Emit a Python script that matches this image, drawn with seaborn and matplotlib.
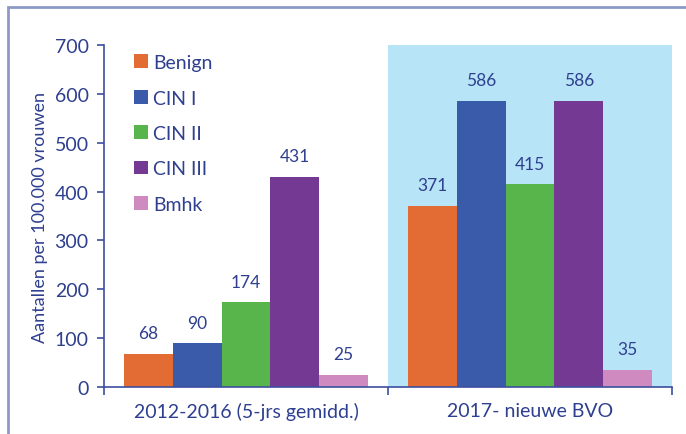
import matplotlib
matplotlib.use("Agg")
import matplotlib.pyplot as plt
import matplotlib.patches as mpatches
import pandas as pd
import seaborn as sns

periods = ["2012-2016 (5-jrs gemidd.)", "2017- nieuwe BVO"]
categories = ["Benign", "CIN I", "CIN II", "CIN III", "Bmhk"]
values_2012_2016 = [68, 90, 174, 431, 25]
values_2017 = [371, 586, 415, 586, 35]
colors = ["#e36c35", "#3a5ba9", "#57b54c", "#743a93", "#cf8bbf"]

TEXT = "#2e3f8f"
AXIS = "#3c4f9e"


def build_frame():
    rows = []
    for period, vals in zip(periods, [values_2012_2016, values_2017]):
        for cat, v in zip(categories, vals):
            rows.append({"periode": period, "categorie": cat, "aantal": v})
    return pd.DataFrame(rows)


def main():
    df = build_frame()
    sns.set_style("white")
    plt.rcParams["font.family"] = ["Lato", "DejaVu Sans"]

    fig = plt.figure(figsize=(6.86, 4.35), dpi=100)
    ax = fig.add_axes([0.1516, 0.108, 0.828, 0.786])

    # highlighted band behind the second period
    ax.axvspan(0.5, 1.5, color="#b8e4f7", zorder=0, lw=0)

    sns.barplot(data=df, x="periode", y="aantal", hue="categorie",
                order=periods, hue_order=categories, palette=colors,
                width=0.86, saturation=1, linewidth=0, ax=ax, zorder=2)

    for cont in ax.containers:
        ax.bar_label(cont, padding=9, fontsize=12.5, color=TEXT)

    ax.set_xlim(-0.5, 1.5)
    ax.set_ylim(0, 700)
    ax.set_yticks(range(0, 701, 100))
    ax.tick_params(axis="y", labelsize=14, colors=AXIS, labelcolor=TEXT,
                   length=5, width=1.2, direction="out", left=True, pad=6)

    ax.set_xticks([-0.5, 0.5, 1.5])
    ax.set_xticklabels([])
    ax.set_xticks([0, 1], minor=True)
    ax.set_xticklabels(periods, minor=True)
    ax.tick_params(axis="x", which="major", length=6, width=1.2,
                   colors=AXIS, direction="out", bottom=True)
    ax.tick_params(axis="x", which="minor", length=0, labelsize=14,
                   labelcolor=TEXT, pad=11)

    ax.set_xlabel("")
    ax.set_ylabel("Aantallen per 100.000 vrouwen", fontsize=13,
                  color=TEXT, labelpad=5)

    for side in ["top", "right"]:
        ax.spines[side].set_visible(False)
    for side in ["left", "bottom"]:
        ax.spines[side].set_color(AXIS)
        ax.spines[side].set_linewidth(1.2)
    ax.set_facecolor("none")

    leg = ax.legend(loc="upper left", bbox_to_anchor=(0.022, 1.025),
                    frameon=False, fontsize=14, handlelength=0.7,
                    handleheight=0.7, handletextpad=0.3, labelspacing=0.95)
    for t in leg.get_texts():
        t.set_color(TEXT)

    border = mpatches.Rectangle((0.0117, -0.05), 1.1, 1.0316, fill=False,
                                edgecolor="#8d9ac7", lw=2,
                                transform=fig.transFigure, figure=fig)
    fig.patches.append(border)

    fig.savefig("out.png", dpi=100)


if __name__ == "__main__":
    main()
